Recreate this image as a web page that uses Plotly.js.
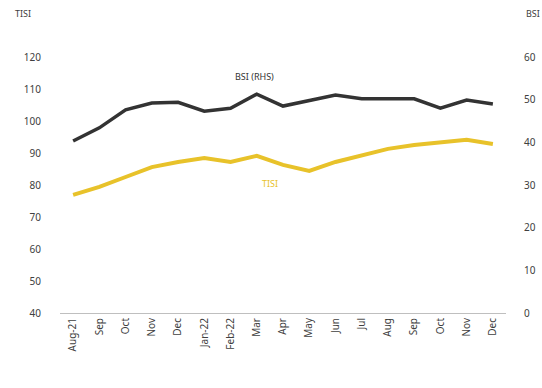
<!DOCTYPE html>
<html>
<head>
<meta charset="utf-8">
<script src="https://cdn.plot.ly/plotly-3.0.1.min.js"></script>
<style>html,body{margin:0;padding:0;background:#fff;}#chart{width:542px;height:388px;}</style>
</head>
<body>
<div id="chart"></div>
<script>
var months = ["Aug-21","Sep","Oct","Nov","Dec","Jan-22","Feb-22","Mar","Apr","May","Jun","Jul","Aug","Sep","Oct","Nov","Dec"];
var tisi = [76.9, 79.4, 82.5, 85.6, 87.2, 88.4, 87.2, 89.1, 86.3, 84.4, 87.2, 89.4, 91.3, 92.5, 93.4, 94.1, 92.8];
var bsi = [40.3, 43.4, 47.6, 49.2, 49.4, 47.3, 48.0, 51.3, 48.5, 49.9, 51.1, 50.2, 50.2, 50.2, 48.0, 49.9, 49.0];
var leftTicks = [40, 50, 60, 70, 80, 90, 100, 110, 120];
var rightTicks = [0, 10, 20, 30, 40, 50, 60];

var idx = months.map(function(_, i){ return i; });
var font = "Noto Sans, DejaVu Sans, sans-serif";

var traces = [
  {x: idx, y: tisi, type: "scatter", mode: "lines", name: "TISI",
   line: {color: "#e8c22a", width: 4}, yaxis: "y"},
  {x: idx, y: bsi, type: "scatter", mode: "lines", name: "BSI (RHS)",
   line: {color: "#333333", width: 3.5}, yaxis: "y2"}
];

var layout = {
  width: 542, height: 388,
  margin: {l: 60, r: 36, t: 57, b: 75},
  paper_bgcolor: "#ffffff", plot_bgcolor: "#ffffff",
  showlegend: false,
  font: {family: font, size: 10, color: "#404040"},
  xaxis: {
    range: [-0.5, 16.5], tickmode: "array", tickvals: idx, ticktext: months,
    tickangle: -90, showgrid: false, zeroline: false,
    showline: true, linecolor: "#bfbfbf", linewidth: 1, ticks: "",
    tickfont: {family: font, size: 10, color: "#404040"}
  },
  yaxis: {
    range: [40, 120], tickmode: "array", tickvals: leftTicks,
    showgrid: false, zeroline: false, showline: false, ticks: "",
    ticklabelstandoff: 18,
    tickfont: {family: font, size: 10, color: "#404040"}
  },
  yaxis2: {
    range: [0, 60], tickmode: "array", tickvals: rightTicks,
    overlaying: "y", side: "right",
    showgrid: false, zeroline: false, showline: false, ticks: "",
    ticklabelstandoff: 17,
    tickfont: {family: font, size: 10, color: "#404040"}
  },
  annotations: [
    {xref: "paper", yref: "paper", x: -0.105, y: 1.17, xanchor: "left", yanchor: "middle",
     text: "TISI", showarrow: false, font: {family: font, size: 9, color: "#404040"}},
    {xref: "paper", yref: "paper", x: 1.04, y: 1.17, xanchor: "left", yanchor: "middle",
     text: "BSI", showarrow: false, font: {family: font, size: 9, color: "#404040"}},
    {xref: "x", yref: "y2", x: 6.9, y: 55.5, xanchor: "center", yanchor: "middle",
     text: "BSI (RHS)", showarrow: false, font: {family: font, size: 9, color: "#333333"}},
    {xref: "x", yref: "y", x: 7.5, y: 80.5, xanchor: "center", yanchor: "middle",
     text: "TISI", showarrow: false, font: {family: font, size: 9, color: "#e8c22a"}}
  ]
};

Plotly.newPlot("chart", traces, layout, {displayModeBar: false, staticPlot: true});
</script>
</body>
</html>
